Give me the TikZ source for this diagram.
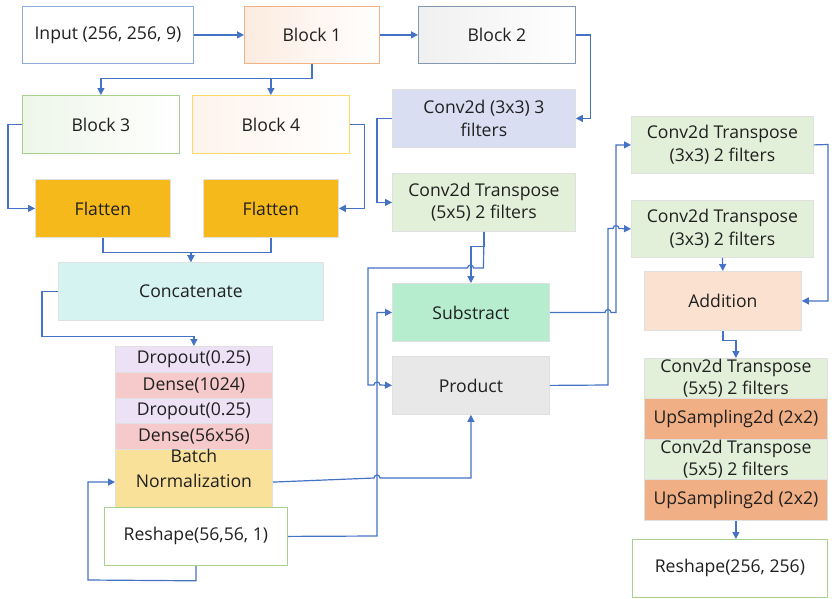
\documentclass[tikz,border=0pt]{standalone}
\usepackage{fontspec}
\setmainfont{Open Sans}
\usetikzlibrary{arrows.meta}
\definecolor{lblue}{HTML}{4472C4}
\definecolor{txt}{HTML}{202020}
\definecolor{bInput}{HTML}{8EAADB}
\definecolor{bOrange}{HTML}{F4B183}
\definecolor{bSteel}{HTML}{8497B0}
\definecolor{bGreen}{HTML}{A9D18E}
\definecolor{bYellow}{HTML}{FFD966}
\definecolor{fFlat}{HTML}{F5B91B}
\definecolor{fCat}{HTML}{D5F3F1}
\definecolor{fDrop}{HTML}{EDE2F5}
\definecolor{fDense}{HTML}{F6CACB}
\definecolor{fBN}{HTML}{F9E19A}
\definecolor{fConv}{HTML}{D9DEF2}
\definecolor{fCT}{HTML}{E2F0D9}
\definecolor{fSub}{HTML}{B6EDCF}
\definecolor{fProd}{HTML}{E8E8E8}
\definecolor{fAdd}{HTML}{FBE2D0}
\definecolor{fUp}{HTML}{F0AF85}
\begin{document}
\begin{tikzpicture}[x=1pt,y=-1pt,
  box/.style={line width=0.8pt, inner sep=0pt, align=center, anchor=north west,
    font=\fontsize{17.6}{22.5}\selectfont, text=txt},
  outl/.style={box, draw=#1},
  filled/.style={box, fill=#1, draw=black!12},
  conn/.style={draw=lblue, line width=1.2pt, -{Triangle[length=7pt,width=7pt]}},
  line/.style={draw=lblue, line width=1.2pt}]
\useasboundingbox (0,0) rectangle (832,598);

% top row
\node[outl=bInput, fill=white, minimum width=171pt, minimum height=57pt] (input) at (22,6) {Input (256, 256, 9)};
\node[outl=bOrange, left color=bOrange!25, right color=white, minimum width=135pt, minimum height=57pt] (b1) at (244,6) {Block 1};
\node[outl=bSteel, left color=black!6, right color=white, minimum width=157pt, minimum height=57pt] (b2) at (418,6) {Block 2};
\node[outl=bGreen, left color=bGreen!20, right color=white, minimum width=157pt, minimum height=58pt] (b3) at (22,95) {Block 3};
\node[outl=bYellow, left color=bOrange!15, right color=white, minimum width=157pt, minimum height=58pt] (b4) at (192,95) {Block 4};

\node[filled=fFlat, minimum width=135pt, minimum height=58pt] (fl1) at (35,179) {Flatten};
\node[filled=fFlat, minimum width=135pt, minimum height=58pt] (fl2) at (203,179) {Flatten};
\node[filled=fCat, minimum width=265pt, minimum height=58pt] (cat) at (58,262) {Concatenate};

\node[filled=fDrop, minimum width=157pt, minimum height=26pt] (do1) at (115,346) {Dropout(0.25)};
\node[filled=fDense, minimum width=157pt, minimum height=26pt] (de1) at (115,372) {Dense(1024)};
\node[filled=fDrop, minimum width=157pt, minimum height=25pt] (do2) at (115,398) {Dropout(0.25)};
\node[filled=fDense, minimum width=157pt, minimum height=26pt] (de2) at (115,423) {Dense(56x56)};
\node[filled=fBN, minimum width=157pt, minimum height=58pt] (bn) at (115,449) {Batch\\[2pt]Normalization\\[5pt]};
\node[outl=bGreen, fill=white, minimum width=183pt, minimum height=58pt] (rs1) at (104,507) {Reshape(56,56, 1)};

% middle column
\node[filled=fConv, minimum width=183pt, minimum height=58pt] (c3) at (392,89) {Conv2d (3x3) 3\\filters};
\node[filled=fCT, minimum width=183pt, minimum height=58pt] (ct5) at (392,173) {Conv2d Transpose\\(5x5) 2 filters};
\node[filled=fSub, minimum width=157pt, minimum height=58pt] (sub) at (392,283) {Substract};
\node[filled=fProd, minimum width=157pt, minimum height=58pt] (prod) at (392,356) {Product};

% right column
\node[filled=fCT, minimum width=182pt, minimum height=57pt] (ct3a) at (631,116) {Conv2d Transpose\\(3x3) 2 filters};
\node[filled=fCT, minimum width=182pt, minimum height=57pt] (ct3b) at (631,200) {Conv2d Transpose\\(3x3) 2 filters};
\node[filled=fAdd, minimum width=157pt, minimum height=59pt] (add) at (644,271) {Addition};
\node[filled=fCT, minimum width=183pt, minimum height=40pt] (ct5a) at (644,358) {Conv2d Transpose\\(5x5) 2 filters};
\node[filled=fUp, minimum width=183pt, minimum height=41pt] (up1) at (644,398) {UpSampling2d (2x2)};
\node[filled=fCT, minimum width=183pt, minimum height=40pt] (ct5b) at (644,439) {Conv2d Transpose\\(5x5) 2 filters};
\node[filled=fUp, minimum width=183pt, minimum height=41pt] (up2) at (644,479) {UpSampling2d (2x2)};
\node[outl=bGreen, fill=white, minimum width=195pt, minimum height=58pt] (rs2) at (632,539) {Reshape(256, 256)};

% connectors
\draw[conn] (input.east) -- (b1.west);
\draw[conn] (b1.east) -- (b2.west);
\draw[conn] (b1.south) -- ++(0,15) -| (b3.north);
\draw[conn] (b1.south) -- ++(0,15) -| (b4.north);
\draw[conn] (b3.west) -- ++(-14,0) |- (fl1.west);
\draw[conn] (b4.east) -- ++(15,0) |- (fl2.east);
\draw[conn] (fl1.south) -- ++(0,15) -| (cat.north);
\draw[conn] (fl2.south) -- ++(0,15) -| (cat.north);
\draw[conn] (cat.west) -- ++(-16,0) -- ++(0,45) -| (do1.north);
\draw[conn] (rs1.south) -- ++(0,15) -- (88,580) |- (bn.west);
\draw[conn] (b2.east) -- ++(15,0) |- (c3.east);
\draw[conn] (c3.west) -- ++(-15,0) |- (ct5.west);
% ct5 -> sub
\draw[conn] (ct5.south) -- ++(0,15) -| (sub.north);
% ct5 -> prod (with hops)
\draw[conn] (ct5.south) -- (483.5,268) -- (473.5,268) arc[start angle=0,end angle=180,radius=3pt]
   -- (368,268) -- (368,385) -- (374,385) arc[start angle=180,end angle=0,radius=3pt] -- (prod.west);
% bn -> prod
\draw[conn] (bn.east) -- (374,478) arc[start angle=180,end angle=0,radius=3pt] -| (prod.south);
% rs1 -> sub
\draw[conn] (rs1.east) -- (377,536) |- (sub.west);
% sub -> ct3a
\draw[conn] (sub.east) -- (605,312.5) arc[start angle=180,end angle=0,radius=3pt] -- (616,312.5) |- (ct3a.west);
% prod -> ct3b
\draw[conn] (prod.east) -- (608,385) -- (608,228.5) -- (613,228.5) arc[start angle=180,end angle=0,radius=3pt] -- (ct3b.west);
% right column
\draw[conn] (ct3a.east) -- (828,144.5) |- (add.east);
\draw[conn] (ct3b.south) -- (add.north);
\draw[conn] (add.south) -- ++(0,10) -| (ct5a.north);
\draw[conn] (up2.south) -- (up2.south |- rs2.north);
\end{tikzpicture}
\end{document}
